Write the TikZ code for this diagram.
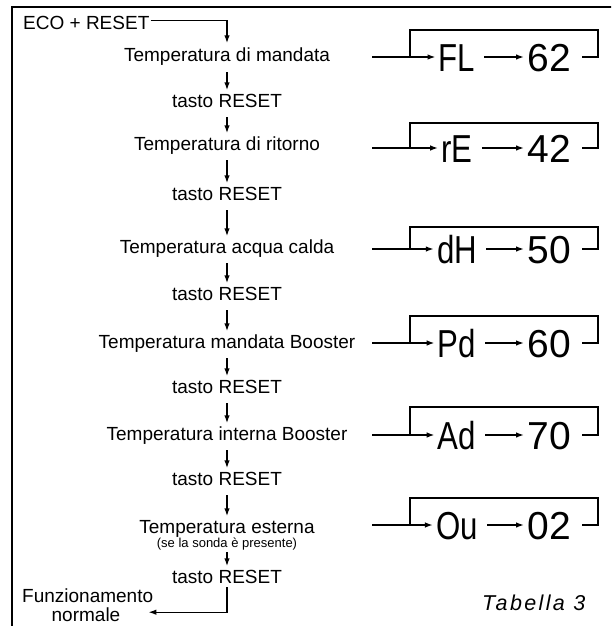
\documentclass[tikz,border=0pt]{standalone}
\usepackage{fontspec}
\usepackage{graphicx}
\setmainfont{Liberation Sans}
\newfontfamily\tabfont[LetterSpace=11]{Liberation Sans}
\usetikzlibrary{arrows.meta}

\tikzset{
  lbl/.style={inner sep=0pt, font=\fontsize{19}{22}\selectfont, text height=13.5pt, text depth=4pt},
  note/.style={inner sep=0pt, font=\fontsize{13}{15}\selectfont, text height=9.5pt, text depth=3pt},
  seg/.style={inner sep=0pt, font=\fontsize{39}{44}\selectfont, text height=28pt, text depth=0pt},
  tip/.style={-{Latex[length=8pt,width=5.5pt]}},
  flow/.style={tip, line width=1.4pt, shorten <=6pt, shorten >=3pt},
  feed/.style={tip, line width=1.6pt},
  loop/.style={line width=1.8pt},
  frame/.style={line width=2pt},
}

\begin{document}
\begin{tikzpicture}[x=1pt, y=-1pt]
  \useasboundingbox (0,0) rectangle (611,626);
  \clip (0,0) rectangle (611,626);

  % outer frame (top and left edges)
  \draw[frame] (12,630) -- (12,7) -- (615,7);

  % left-hand sequence
  \node[lbl, anchor=base west] (eco) at (23,30) {ECO + RESET};
  \node[lbl, anchor=base] (t1) at (227,62)  {Temperatura di mandata};
  \node[lbl, anchor=base] (r1) at (227,107) {tasto RESET};
  \node[lbl, anchor=base] (t2) at (227,150) {Temperatura di ritorno};
  \node[lbl, anchor=base] (r2) at (227,200) {tasto RESET};
  \node[lbl, anchor=base] (t3) at (227,253) {Temperatura acqua calda};
  \node[lbl, anchor=base] (r3) at (227,300) {tasto RESET};
  \node[lbl, anchor=base] (t4) at (227,348) {Temperatura mandata Booster};
  \node[lbl, anchor=base] (r4) at (227,393) {tasto RESET};
  \node[lbl, anchor=base] (t5) at (227,440) {Temperatura interna Booster};
  \node[lbl, anchor=base] (r5) at (227,485) {tasto RESET};
  \node[lbl, anchor=base] (t6) at (227,533) {Temperatura esterna};
  \node[note, anchor=base] (t6b) at (227,547) {(se la sonda è presente)};
  \node[lbl, anchor=base] (r6) at (227,583) {tasto RESET};
  \node[lbl, anchor=base west] (fz) at (22,602) {Funzionamento};
  \node[lbl, anchor=base] (nm) at (86,621) {normale};

  \draw[flow, shorten <=0pt, shorten >=5pt] ([xshift=1pt,yshift=5pt]eco.east) -| (t1.north);
  \draw[flow] (t1.south) -- (r1.north);
  \draw[flow] (r1.south) -- (t2.north);
  \draw[flow] (t2.south) -- (r2.north);
  \draw[flow] (r2.south) -- (t3.north);
  \draw[flow] (t3.south) -- (r3.north);
  \draw[flow] (r3.south) -- (t4.north);
  \draw[flow] (t4.south) -- (r4.north);
  \draw[flow] (r4.south) -- (t5.north);
  \draw[flow] (t5.south) -- (r5.north);
  \draw[flow] (r5.south) -- (t6.north);
  \draw[flow, shorten <=2pt] (t6b.south) -- (r6.north);
  \draw[flow, shorten <=0pt, shorten >=0pt] (r6.south) |- ([xshift=-5pt,yshift=-6pt]fz.south east);

  % display readings with their loop-back brackets
  \foreach \rn/\ry/\rt/\rc/\rv in {1/57/30/FL/62, 2/148/123/rE/42, 3/249/227/dH/50,
                                   4/343/316/Pd/60, 5/435/407/Ad/70, 6/525/498/Ou/02}{
    \node[seg] (code\rn) at (457,\ry) {\scalebox{0.8}[1]{\rc}};
    \node[seg] (val\rn) at (549,\ry) {\rv};
    \coordinate (in\rn) at (372,\ry);
    \coordinate (ret\rn) at (410,\ry);
    \coordinate (back\rn) at (582,\ry);
    \draw[feed, shorten >=3pt] (in\rn) -- (code\rn);
    \draw[feed, shorten <=9pt, shorten >=3pt] (code\rn) -- (val\rn);
    \draw[loop] (back\rn) -- (598,\ry) -- (598,\rt) -- (410,\rt) -- (ret\rn);
  }

  \node[anchor=base west, inner sep=0pt, font=\fontsize{21.5}{25}\tabfont\itshape] (tab) at (482,610) {Tabella 3};
\end{tikzpicture}
\end{document}
